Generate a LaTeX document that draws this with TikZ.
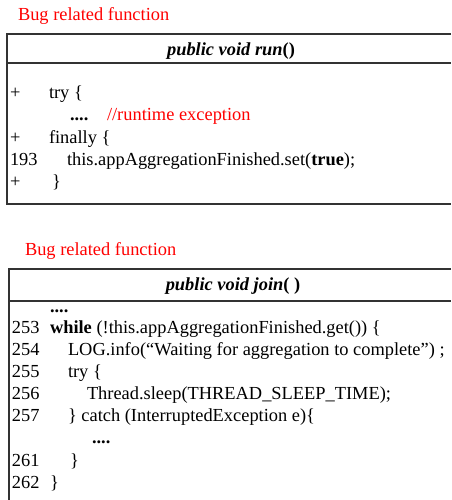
\documentclass[tikz,border=0pt]{standalone}
\usepackage{fontspec}
\setmainfont{Liberation Serif}
\begin{document}
\begin{tikzpicture}[x=1pt, y=-1pt,
    every node/.style={inner sep=0pt, outer sep=0pt, font=\fontsize{18.4}{22}\selectfont},
    code/.style={anchor=base west},
    note/.style={anchor=base west, text=red},
    head/.style={anchor=base, font=\fontsize{18.4}{22}\selectfont\bfseries},
    frame/.style={line width=1.3pt, black!80}]
  \useasboundingbox (0, 0) rectangle (451, 500);

  % first function
  \node[note] (runnote) at (18, 21) {Bug related function};
  \draw[frame] (451, 34) -- (7, 34) -- (7, 204) -- (451, 204);
  \draw[frame] (7, 63) -- (451, 63);
  \node[head] (runhead) at (231, 56) {\itshape public void run\upshape()};
  \node[code] (r1a) at (10, 99) {+};
  \node[code] (r1b) at (49, 99) {try \{};
  \node[code] (r2a) at (70, 121) {\textbf{....}};
  \node[note] (r2b) at (107, 121) {//runtime exception};
  \node[code] (r3a) at (10, 143) {+};
  \node[code] (r3b) at (49, 143) {finally \{};
  \node[code] (r4a) at (10, 165) {193};
  \node[code] (r4b) at (67, 165) {this.appAggregationFinished.set(\textbf{true});};
  \node[code] (r5a) at (10, 187) {+};
  \node[code] (r5b) at (52, 187) {\}};

  % second function
  \node[note] (joinnote) at (25, 255) {Bug related function};
  \draw[frame] (451, 269) -- (9, 269) -- (9, 500);
  \draw[frame] (9, 301) -- (451, 301);
  \node[head] (joinhead) at (233, 290) {\itshape public void join\upshape( )};
  \node[code] (j0) at (50, 312) {\textbf{....}};
  \node[code] (j1a) at (12, 333) {253};
  \node[code] (j1b) at (50, 333) {\textbf{while} (!this.appAggregationFinished.get()) \{};
  \node[code] (j2a) at (12, 355) {254};
  \node[code] (j2b) at (68, 355) {LOG.info(``Waiting for aggregation to complete'') ;};
  \node[code] (j3a) at (12, 377) {255};
  \node[code] (j3b) at (68, 377) {try \{};
  \node[code] (j4a) at (12, 399) {256};
  \node[code] (j4b) at (87, 399) {Thread.sleep(THREAD\_SLEEP\_TIME);};
  \node[code] (j5a) at (12, 421) {257};
  \node[code] (j5b) at (68, 421) {\} catch (InterruptedException e)\{};
  \node[code] (j6) at (92, 443) {\textbf{....}};
  \node[code] (j7a) at (12, 466) {261};
  \node[code] (j7b) at (70, 466) {\}};
  \node[code] (j8a) at (12, 488) {262};
  \node[code] (j8b) at (50, 488) {\}};
\end{tikzpicture}
\end{document}
